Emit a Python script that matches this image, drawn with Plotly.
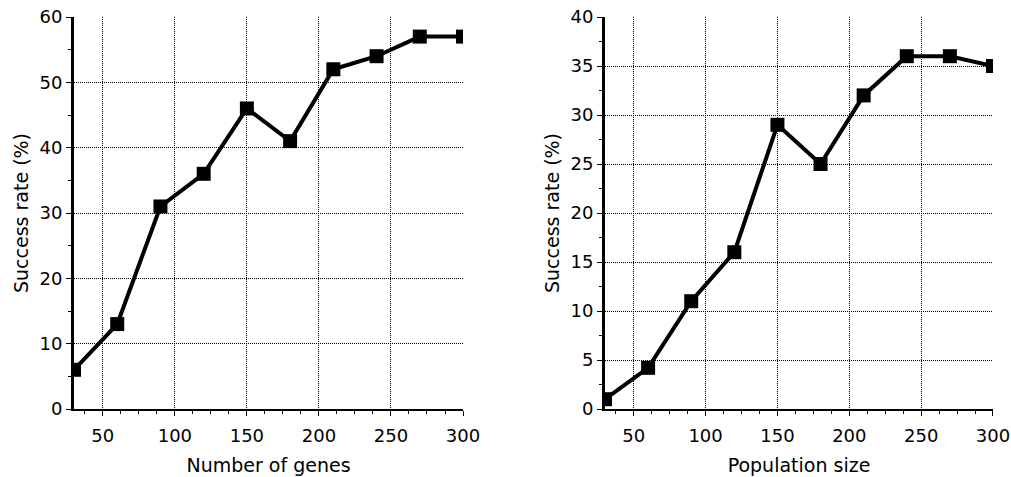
import plotly.graph_objects as go
from plotly.subplots import make_subplots

genes_x = [30, 60, 90, 120, 150, 180, 210, 240, 270, 300]
genes_rate = [6, 13, 31, 36, 46, 41, 52, 54, 57, 57]
pop_x = [30, 60, 90, 120, 150, 180, 210, 240, 270, 300]
pop_rate = [1, 4.2, 11, 16, 29, 25, 32, 36, 36, 35]

x_ticks = [50, 100, 150, 200, 250, 300]
left_y_ticks = [0, 10, 20, 30, 40, 50, 60]
right_y_ticks = [0, 5, 10, 15, 20, 25, 30, 35, 40]

FONT = "DejaVu Sans"

fig = make_subplots(rows=1, cols=2, horizontal_spacing=0.155)

for col, (xs, ys) in enumerate([(genes_x, genes_rate), (pop_x, pop_rate)], start=1):
    fig.add_trace(go.Scatter(x=xs, y=ys, mode="lines+markers",
                             line=dict(color="black", width=4),
                             marker=dict(symbol="square", size=14, color="black"),
                             showlegend=False), row=1, col=col)

grid = dict(showgrid=True, gridcolor="black", gridwidth=1, griddash="1px,1px",
            ticks="outside", ticklen=5, tickcolor="black", showline=True,
            linecolor="black", zeroline=False, automargin=False,
            ticklabeloverflow="allow",
            tickfont=dict(family=FONT, size=18, color="black"))

fig.update_xaxes(range=[30, 300], tickvals=x_ticks, linewidth=2, ticklabelstandoff=4,
                 minor=dict(tick0=0, dtick=12.5, ticks="outside", ticklen=3, tickcolor="black", showgrid=False),
                 **grid)
fig.update_xaxes(title=dict(text="Number of genes", font=dict(family=FONT, size=19, color="black"), standoff=14), row=1, col=1)
fig.update_xaxes(title=dict(text="Population size", font=dict(family=FONT, size=19, color="black"), standoff=14), row=1, col=2)

fig.update_yaxes(range=[0, 60], tickvals=left_y_ticks, linewidth=3,
                 minor=dict(tick0=0, dtick=5, ticks="outside", ticklen=3, tickcolor="black", showgrid=False),
                 title=dict(text="Success rate (%)", font=dict(family=FONT, size=19, color="black"), standoff=6),
                 row=1, col=1, **grid)
fig.update_yaxes(range=[0, 40], tickvals=right_y_ticks, linewidth=3,
                 minor=dict(tick0=0, dtick=2.5, ticks="outside", ticklen=3, tickcolor="black", showgrid=False),
                 title=dict(text="Success rate (%)", font=dict(family=FONT, size=19, color="black"), standoff=6),
                 row=1, col=2, **grid)

fig.update_layout(width=1011, height=477, margin=dict(l=74, r=18, t=17, b=68),
                  paper_bgcolor="white", plot_bgcolor="white",
                  font=dict(family=FONT, color="black"))
fig.update_xaxes(domain=[0, 0.4233], row=1, col=1)
fig.update_xaxes(domain=[0.5778, 1.0], row=1, col=2)

fig.write_html("out.html", config={"displayModeBar": False},
               post_script="document.body.style.margin='0';document.documentElement.style.overflow='hidden';")
